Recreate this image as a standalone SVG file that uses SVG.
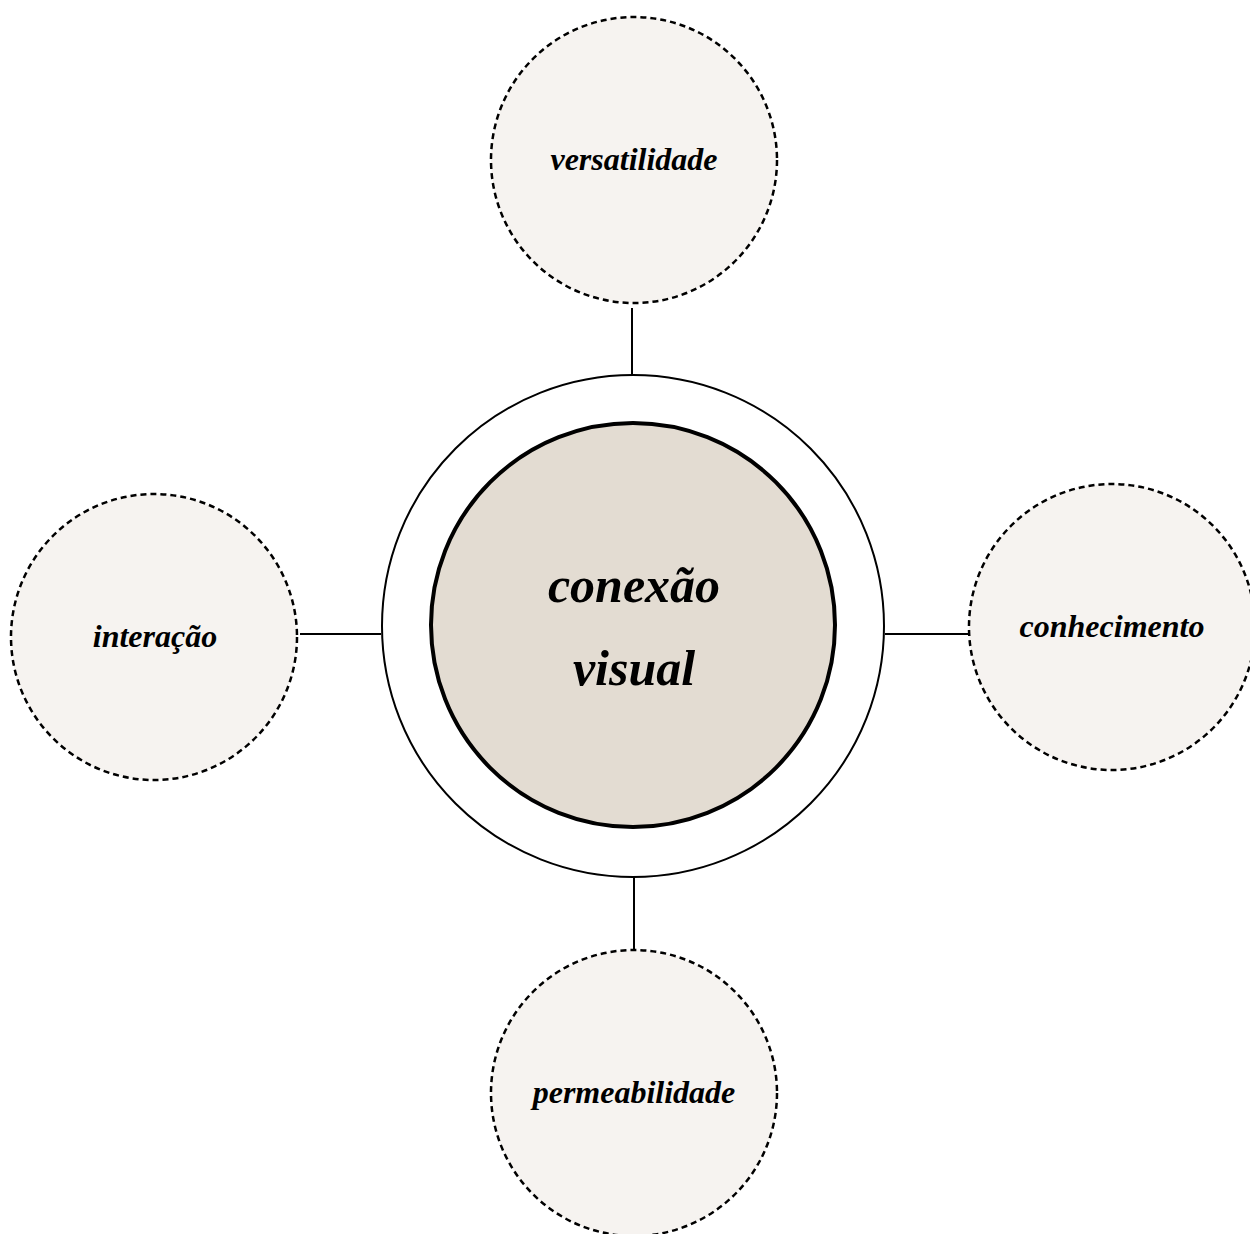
<svg xmlns="http://www.w3.org/2000/svg" width="1250" height="1234" viewBox="0 0 1250 1234">
<style>
.sat{fill:#f6f3f0;stroke:#000;stroke-width:2.5;stroke-dasharray:6 4}
.lbl{font-family:"Liberation Serif","DejaVu Serif",serif;font-style:italic;font-weight:bold;fill:#000;text-anchor:middle}
.s{font-size:32px}
.b{font-size:50px}
.con{stroke:#000;stroke-width:2;fill:none}
</style>
<rect width="1250" height="1234" fill="#fff"/>
<g id="connectors">
<line class="con" x1="632" y1="308" x2="632" y2="374"/>
<line class="con" x1="300" y1="634" x2="381" y2="634"/>
<line class="con" x1="885" y1="634" x2="969" y2="634"/>
<line class="con" x1="634" y1="877" x2="634" y2="950"/>
</g>
<g id="center">
<circle cx="633" cy="626" r="251" fill="#fff" stroke="#000" stroke-width="2"/>
<circle cx="633" cy="625" r="202" fill="#e3dcd2" stroke="#000" stroke-width="4"/>
<text class="lbl b" x="634" y="602">conexão</text>
<text class="lbl b" x="634" y="685">visual</text>
</g>
<g id="versatilidade">
<circle class="sat" cx="634" cy="160" r="143"/>
<text class="lbl s" x="634" y="170">versatilidade</text>
</g>
<g id="interacao">
<circle class="sat" cx="154" cy="637" r="143"/>
<text class="lbl s" x="155" y="647">interação</text>
</g>
<g id="conhecimento">
<circle class="sat" cx="1112" cy="627" r="143"/>
<text class="lbl s" x="1112" y="637">conhecimento</text>
</g>
<g id="permeabilidade">
<circle class="sat" cx="634" cy="1093" r="143"/>
<text class="lbl s" x="634" y="1103">permeabilidade</text>
</g>
</svg>
